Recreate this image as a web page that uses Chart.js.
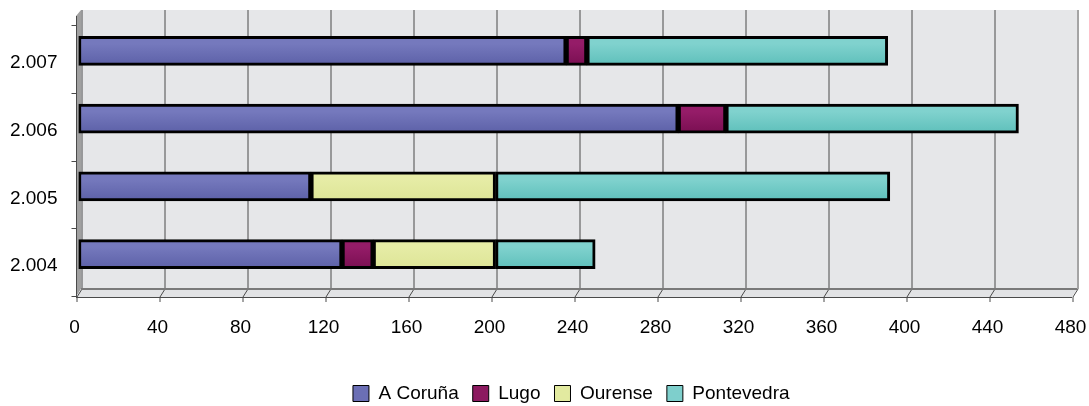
<!DOCTYPE html>
<html>
<head>
<meta charset="utf-8">
<script src="https://cdn.jsdelivr.net/npm/chart.js"></script>
<style>
  html, body { margin: 0; padding: 0; background: #fff; }
  #wrap { width: 1089px; height: 406px; }
</style>
</head>
<body>
<div id="wrap"><canvas id="chart"></canvas></div>
<script>
// data
var years = ['2.007', '2.006', '2.005', '2.004'];
var aCoruna = [235, 289, 112, 127];
var lugo = [10, 23, null, 15];
var ourense = [null, null, 89, 59];
var pontevedra = [145, 141, 190, 48];
var xTicks = [0, 40, 80, 120, 160, 200, 240, 280, 320, 360, 400, 440, 480];

var FONT = "'Liberation Sans', Arial, sans-serif";

function shade(top, bottom) {
  return function (c) {
    var chart = c.chart;
    if (!chart.chartArea || c.dataIndex === undefined) return top;
    var y = chart.scales.y.getPixelForValue(c.dataIndex);
    var g = chart.ctx.createLinearGradient(0, y - 14, 0, y + 14);
    g.addColorStop(0, top);
    g.addColorStop(0.25, top);
    g.addColorStop(1, bottom);
    return g;
  };
}

// move the legend down / right to where the original has it
var legendShift = {
  id: 'legendShift',
  afterLayout: function (chart) {
    var lg = chart.legend, dy = 7, dx = 34;
    lg.top += dy; lg.bottom += dy;
    lg.left += dx; lg.right += dx;
  }
};

// 3D-ish wall, floor and axes behind the bars
var wallPlugin = {
  id: 'wall',
  beforeDatasetsDraw: function (chart) {
    var ctx = chart.ctx, x = chart.scales.x, ys = chart.scales.y;
    var d = 2.5;
    var left = x.getPixelForValue(0), right = x.getPixelForValue(480);
    var wallTop = 10, wallBottom = 289, front = 297;
    ctx.save();
    ctx.fillStyle = '#e6e7e9';
    ctx.fillRect(left + d, wallTop, right - left, wallBottom - wallTop);
    ctx.fillStyle = '#a0a0a0';
    ctx.beginPath();
    ctx.moveTo(left - d, wallTop + 6);
    ctx.lineTo(left + d, wallTop);
    ctx.lineTo(left + d, wallBottom);
    ctx.lineTo(left - d, front);
    ctx.closePath();
    ctx.fill();
    ctx.fillStyle = '#e2e3e5';
    ctx.beginPath();
    ctx.moveTo(left - d, front);
    ctx.lineTo(right - d, front);
    ctx.lineTo(right + d, wallBottom);
    ctx.lineTo(left + d, wallBottom);
    ctx.closePath();
    ctx.fill();
    ctx.lineWidth = 1;
    ctx.strokeStyle = '#4a4a4a';
    xTicks.forEach(function (v) {
      var px = Math.round(x.getPixelForValue(v)) + 0.5;
      ctx.beginPath();
      ctx.moveTo(px + d, wallTop);
      ctx.lineTo(px + d, wallBottom);
      ctx.lineTo(px - d, front);
      ctx.stroke();
      ctx.beginPath();
      ctx.moveTo(px - d, front);
      ctx.lineTo(px - d, front + 5);
      ctx.stroke();
    });
    ctx.strokeStyle = '#7a7a7a';
    ctx.lineWidth = 2;
    ctx.beginPath();
    ctx.moveTo(left + d, wallBottom);
    ctx.lineTo(right + d, wallBottom);
    ctx.stroke();
    ctx.lineWidth = 1;
    ctx.strokeStyle = '#4a4a4a';
    ctx.beginPath();
    ctx.moveTo(left - d, front + 0.5);
    ctx.lineTo(right - d, front + 0.5);
    ctx.stroke();
    var lx = Math.round(left - d) + 0.5;
    ctx.beginPath();
    ctx.moveTo(lx, wallTop + 6);
    ctx.lineTo(lx, front);
    ctx.stroke();
    for (var i = 0; i <= years.length; i++) {
      var ty = Math.round(ys.getPixelForValue(i - 0.5) + 8) + 0.5;
      ctx.beginPath();
      ctx.moveTo(lx - 5, ty);
      ctx.lineTo(lx, ty);
      ctx.stroke();
    }
    ctx.restore();
  }
};

new Chart(document.getElementById('chart'), {
  type: 'bar',
  data: {
    labels: years,
    datasets: [
      { label: 'A Coruña', data: aCoruna, backgroundColor: shade('#7579bd', '#5d61a8') },
      { label: 'Lugo', data: lugo, backgroundColor: shade('#951c68', '#7a0f52') },
      { label: 'Ourense', data: ourense, backgroundColor: shade('#e6eca6', '#dde597') },
      { label: 'Pontevedra', data: pontevedra, backgroundColor: shade('#80d2ce', '#5fc0bb') }
    ]
  },
  options: {
    indexAxis: 'y',
    responsive: true,
    maintainAspectRatio: false,
    animation: false,
    layout: { padding: { top: 17, left: 0, right: 14.5, bottom: 0 } },
    datasets: {
      bar: {
        borderColor: '#000',
        borderWidth: 3,
        borderSkipped: false,
        barThickness: 29
      }
    },
    scales: {
      x: {
        stacked: true,
        min: 0,
        max: 480,
        afterBuildTicks: function (s) { s.ticks = xTicks.map(function (v) { return { value: v }; }); },
        afterFit: function (s) { s.height = 75; s.paddingLeft = 0; s.paddingRight = 0; },
        grid: { display: false, drawTicks: false },
        border: { display: false },
        ticks: { padding: 28, labelOffset: -4, maxRotation: 0, minRotation: 0, autoSkip: false, color: '#000', font: { family: FONT, size: 19 } }
      },
      y: {
        stacked: true,
        afterFit: function (s) { s.width = 78.5; s.paddingTop = 0; s.paddingBottom = 0; },
        grid: { display: false, drawTicks: false },
        border: { display: false },
        ticks: { padding: 21, labelOffset: 12, color: '#000', font: { family: FONT, size: 19 } }
      }
    },
    plugins: {
      legend: {
        position: 'bottom',
        labels: {
          color: '#000',
          font: { family: FONT, size: 19 },
          boxWidth: 16,
          boxHeight: 16,
          padding: 14,
          generateLabels: function (chart) {
            var fills = ['#6b6fb5', '#8c1a60', '#e2eaa0', '#7ecfcc'];
            return chart.data.datasets.map(function (ds, i) {
              return { text: ds.label, fillStyle: fills[i], strokeStyle: '#000', lineWidth: 1, datasetIndex: i, fontColor: '#000' };
            });
          }
        }
      },
      tooltip: { enabled: false }
    }
  },
  plugins: [wallPlugin, legendShift]
});
</script>
</body>
</html>
